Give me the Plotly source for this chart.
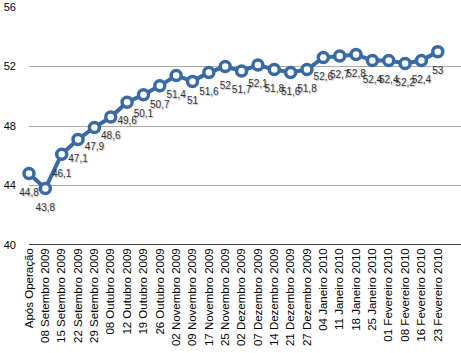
import plotly.graph_objects as go

categories = [
    "Após Operação", "08 Setembro 2009", "15 Setembro 2009", "22 Setembro 2009",
    "29 Setembro 2009", "08 Outubro 2009", "12 Outubro 2009", "19 Outubro 2009",
    "26 Outubro 2009", "02 Novembro 2009", "09 Novembro 2009", "17 Novembro 2009",
    "25 Novembro 2009", "02 Dezembro 2009", "07 Dezembro 2009", "14 Dezembro 2009",
    "21 Dezembro 2009", "27 Dezembro 2009", "04 Janeiro 2010", "11 Janeiro 2010",
    "18 Janeiro 2010", "25 Janeiro 2010", "01 Fevereiro 2010", "08 Fevereiro 2010",
    "16 Fevereiro 2010", "23 Fevereiro 2010",
]
values = [44.8, 43.8, 46.1, 47.1, 47.9, 48.6, 49.6, 50.1, 50.7, 51.4, 51, 51.6, 52,
          51.7, 52.1, 51.8, 51.6, 51.8, 52.6, 52.7, 52.8, 52.4, 52.4, 52.2, 52.4, 53]
y_ticks = [40, 44, 48, 52, 56]

labels = [("%g" % v).replace(".", ",") for v in values]
blue = "#3a6aa3"
font = "Liberation Sans, Arial, sans-serif"

fig = go.Figure()
fig.add_trace(go.Scatter(
    x=categories, y=values, mode="lines+markers",
    line=dict(color=blue, width=4),
    marker=dict(size=10, color="white", line=dict(color=blue, width=3.5)),
    cliponaxis=False, showlegend=False,
))
fig.add_trace(go.Scatter(
    x=categories, y=values, mode="markers+text",
    marker=dict(size=22, opacity=0),
    text=labels, textposition="bottom center",
    textfont=dict(family=font, size=10, color="#333333",
                  shadow="1px 1px 1px rgba(0,0,0,0.25)"),
    cliponaxis=False, showlegend=False, hoverinfo="skip",
))

fig.update_layout(
    width=461, height=353,
    margin=dict(l=29, r=0, t=7, b=108),
    plot_bgcolor="white", paper_bgcolor="white",
    font=dict(family=font, size=11, color="black"),
)
fig.update_xaxes(
    type="category", range=[0, 26.42], tickangle=-90,
    showgrid=False, showline=False, zeroline=False,
    ticks="", tickfont=dict(size=11.5, color="black"),
)
fig.update_yaxes(
    range=[40, 56], tickvals=y_ticks, showgrid=True, gridcolor="#aaaaaa", gridwidth=1,
    zeroline=False, showline=False, ticks="", ticklabelstandoff=12,
    tickfont=dict(size=11, color="black"),
)
fig.add_shape(type="line", xref="paper", yref="y", x0=0, x1=1, y0=40, y1=40,
              line=dict(color="black", width=1.5))

fig.write_html("out.html")
